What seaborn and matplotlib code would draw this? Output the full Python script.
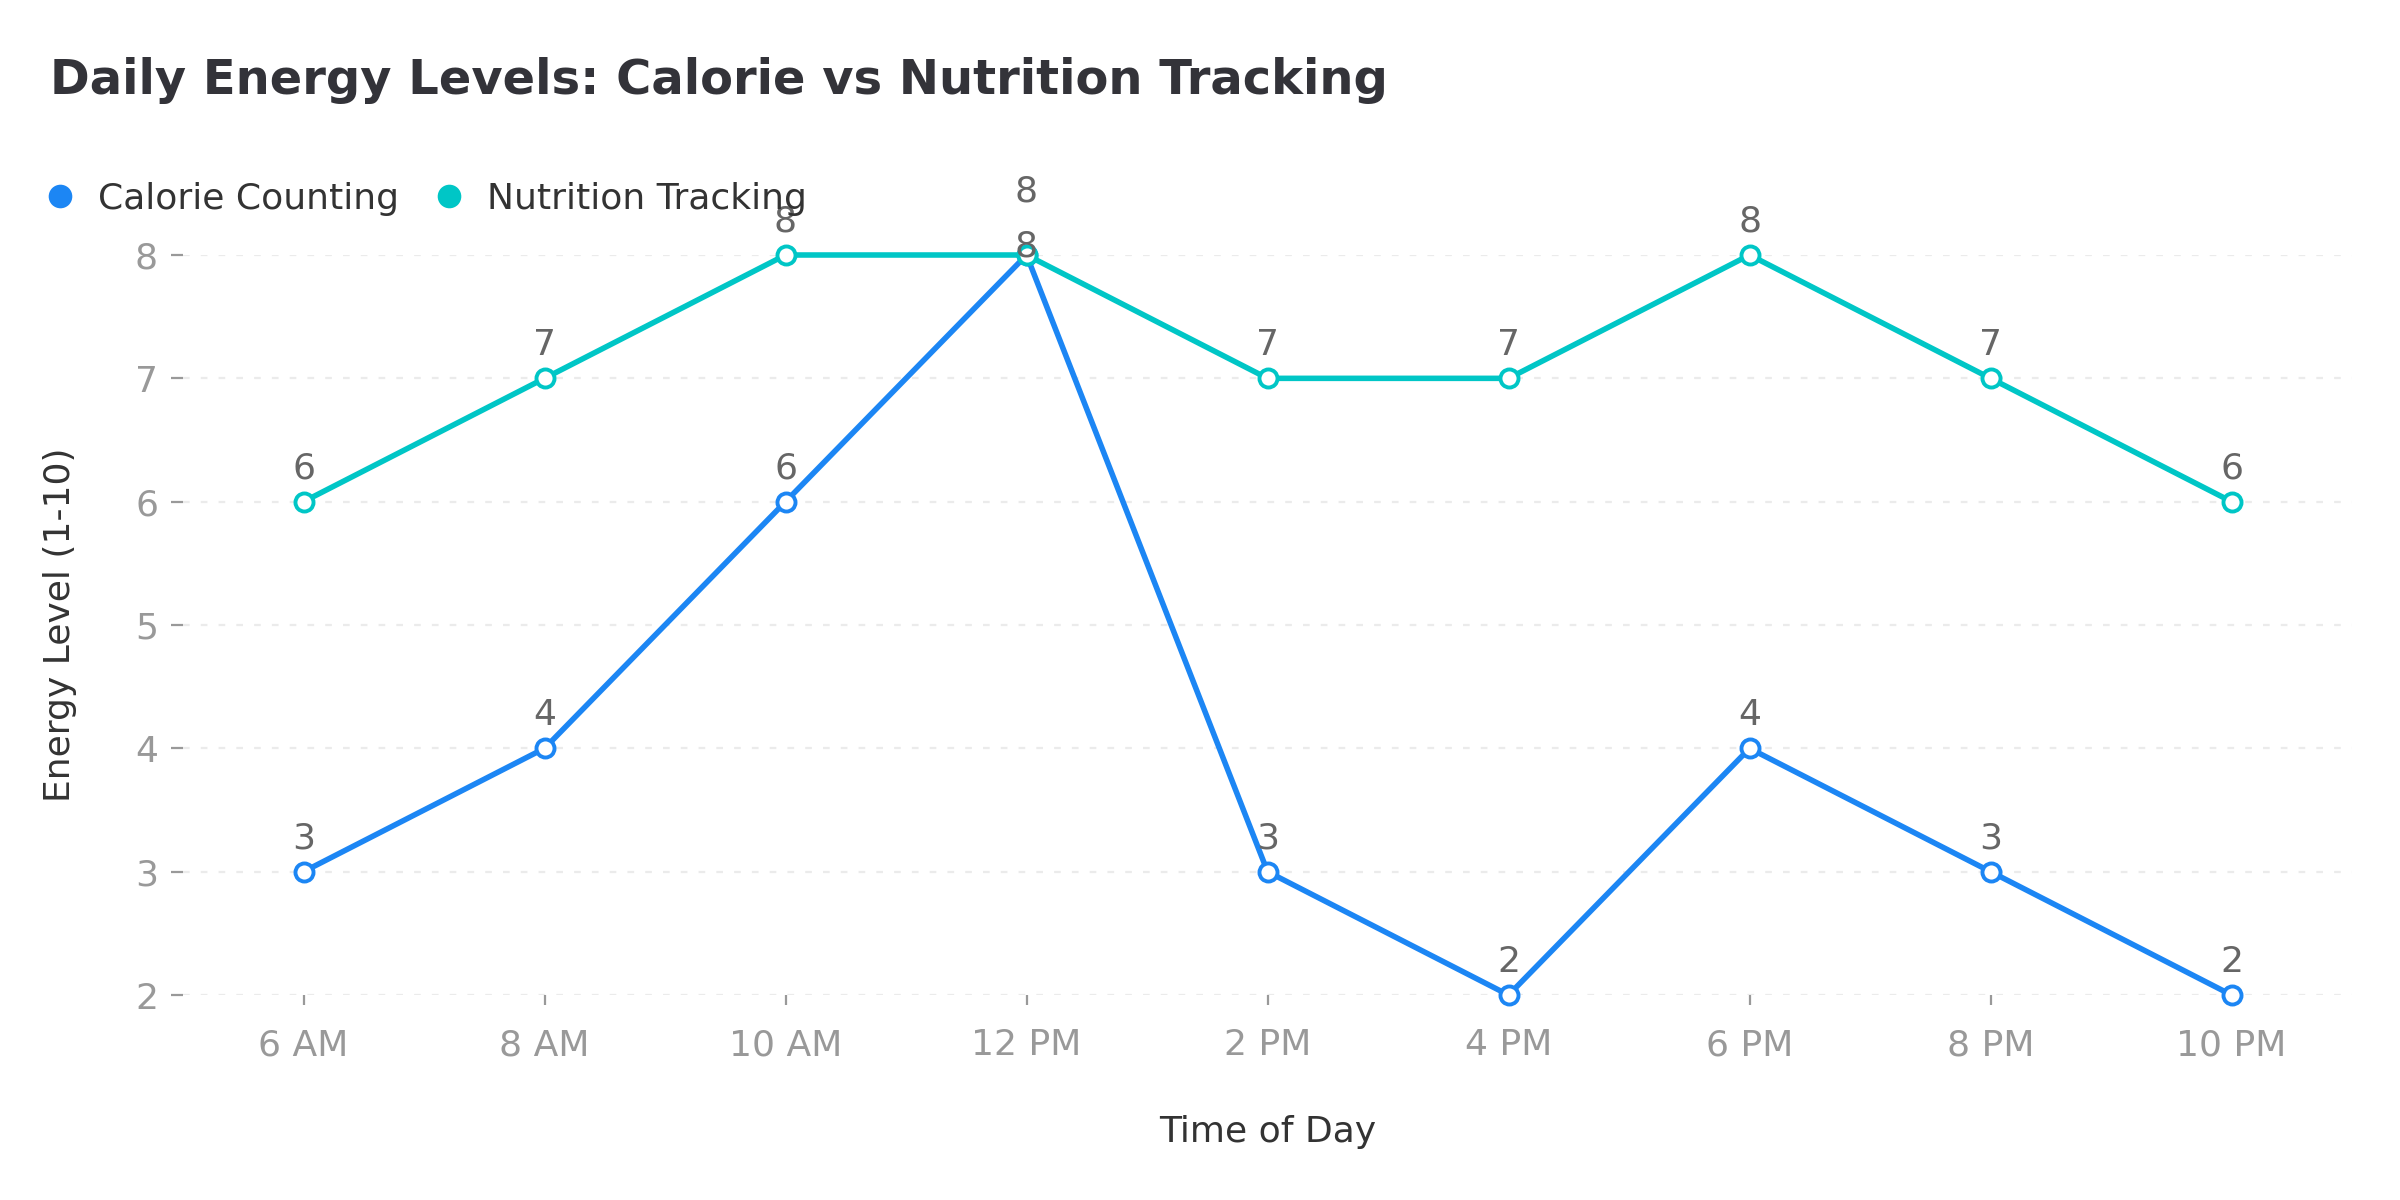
import numpy as np
import pandas as pd
import matplotlib
matplotlib.use('Agg')
import matplotlib.pyplot as plt
import seaborn as sns
from matplotlib.lines import Line2D

# data
times = ['6 AM', '8 AM', '10 AM', '12 PM', '2 PM', '4 PM', '6 PM', '8 PM', '10 PM']
calorie = [3, 4, 6, 8, 3, 2, 4, 3, 2]
nutrition = [6, 7, 8, 8, 7, 7, 8, 7, 6]
series_names = ['Calorie Counting', 'Nutrition Tracking']
colors = ['#1c86f4', '#00c6c6']

sns.set_style('white')
plt.rcParams['font.family'] = ['DejaVu Sans']

df = pd.DataFrame({
    'Time': times * 2,
    'Energy': calorie + nutrition,
    'Method': [series_names[0]] * len(times) + [series_names[1]] * len(times),
})

fig = plt.figure(figsize=(12, 6), dpi=200)
ax = fig.add_axes([0.07625, 0.1708, 0.9038, 0.6167])

sns.lineplot(data=df, x='Time', y='Energy', hue='Method', palette=colors,
             marker='o', markersize=6.5, markerfacecolor='white',
             markeredgewidth=1.4, linewidth=2.0, ax=ax, legend=False,
             clip_on=False)
# marker edges in series colour
for line, c in zip(ax.lines, colors):
    line.set_markeredgecolor(c)
    line.set_clip_on(False)

# value labels (equal values at the same time get pushed apart)
for vals, other in [(calorie, nutrition), (nutrition, calorie)]:
    for i, v in enumerate(vals):
        off = 12
        if v == other[i]:
            off = 3 if vals is calorie else 23
        ax.annotate(str(v), (i, v), xytext=(0, off), textcoords='offset points',
                    ha='center', va='center', fontsize=13, color='#666666')

ax.set_xlim(-0.5, len(times) - 0.5)
ax.set_ylim(2, 8)
ax.set_yticks(range(2, 9))
ax.grid(axis='y', color='#ebebeb', linestyle=(0, (3, 5)), linewidth=0.8)
ax.grid(axis='x', visible=False)
for s in ax.spines.values():
    s.set_visible(False)
ax.tick_params(axis='y', left=True, colors='#999999', labelsize=13, length=4.5,
               width=0.8, pad=4.5, labelcolor='#999999')
ax.tick_params(axis='x', bottom=True, colors='#999999', labelsize=13, length=3.5,
               width=0.8, pad=8.5, labelcolor='#999999')
ax.set_xlabel('Time of Day', fontsize=13, color='#333333', labelpad=19)
ax.set_ylabel('Energy Level (1-10)', fontsize=13, color='#333333', labelpad=21)

handles = [Line2D([], [], marker='o', linestyle='', color=c, markersize=7.5)
           for c in colors]
fig.legend(handles, series_names, loc='center left',
           bbox_to_anchor=(0.019, 1 - 199 / 1200), ncol=2, frameon=False,
           fontsize=13, borderpad=0, borderaxespad=0, handlelength=0.8,
           handletextpad=0.64, columnspacing=1.0, labelcolor='#333333')

fig.text(50 / 2400, 1 - 80 / 1200, 'Daily Energy Levels: Calorie vs Nutrition Tracking',
         fontsize=17.3, fontweight='bold', color='#333339', ha='left', va='center')

fig.savefig('out.png', dpi=200, facecolor='white')
